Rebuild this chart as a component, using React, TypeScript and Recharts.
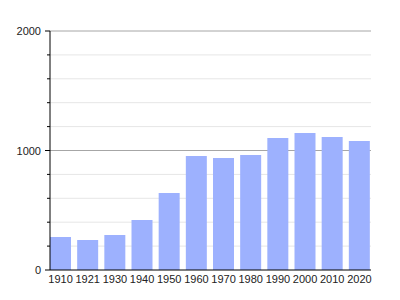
import { Bar, BarChart, CartesianGrid, XAxis, YAxis } from "recharts";

const years = ["1910", "1921", "1930", "1940", "1950", "1960", "1970", "1980", "1990", "2000", "2010", "2020"];
const population = [276, 251, 293, 418, 644, 954, 937, 962, 1105, 1146, 1113, 1079];
const yTicks = [0, 200, 400, 600, 800, 1000, 1200, 1400, 1600, 1800, 2000];
const majorTicks = [0, 1000, 2000];

const data = years.map((y, i) => ({ year: y, value: population[i] }));

function YTick(props: any) {
  const { x, y, payload } = props;
  const major = majorTicks.includes(payload.value);
  return (
    <g>
      <line x1={x - (major ? 5 : 3)} x2={x} y1={y} y2={y} stroke="#000" />
      {major && (
        <text x={x - 9} y={y} dy={4} textAnchor="end" fontSize={11} fill="#222">
          {payload.value}
        </text>
      )}
    </g>
  );
}

export default function App() {
  return (
    <div style={{ position: "absolute", left: 0, top: 0, width: 400, height: 300, background: "#fff", fontFamily: "'Liberation Sans', Arial, sans-serif" }}>
      <BarChart width={400} height={300} data={data} margin={{ top: 31, right: 29, bottom: 14, left: 0 }}>
        <CartesianGrid vertical={false} stroke="#e6e6e6" horizontalValues={yTicks.filter((t) => !majorTicks.includes(t))} />
        <CartesianGrid vertical={false} stroke="#a6a6a6" horizontalValues={[1000, 2000]} />
        <XAxis
          dataKey="year"
          padding={{ left: -3, right: -2 }}
          tickLine={false}
          tickSize={0}
          axisLine={{ stroke: "#000" }}
          tick={{ fontSize: 11, fill: "#222" }}
          tickMargin={5}
          interval={0}
          height={16}
        />
        <YAxis
          width={50}
          domain={[0, 2000]}
          ticks={yTicks}
          interval={0}
          tickSize={0}
          tickMargin={0}
          tickLine={false}
          axisLine={{ stroke: "#000" }}
          tick={<YTick />}
        />
        <Bar dataKey="value" fill="#9db1fe" barSize={21} isAnimationActive={false} />
      </BarChart>
    </div>
  );
}
